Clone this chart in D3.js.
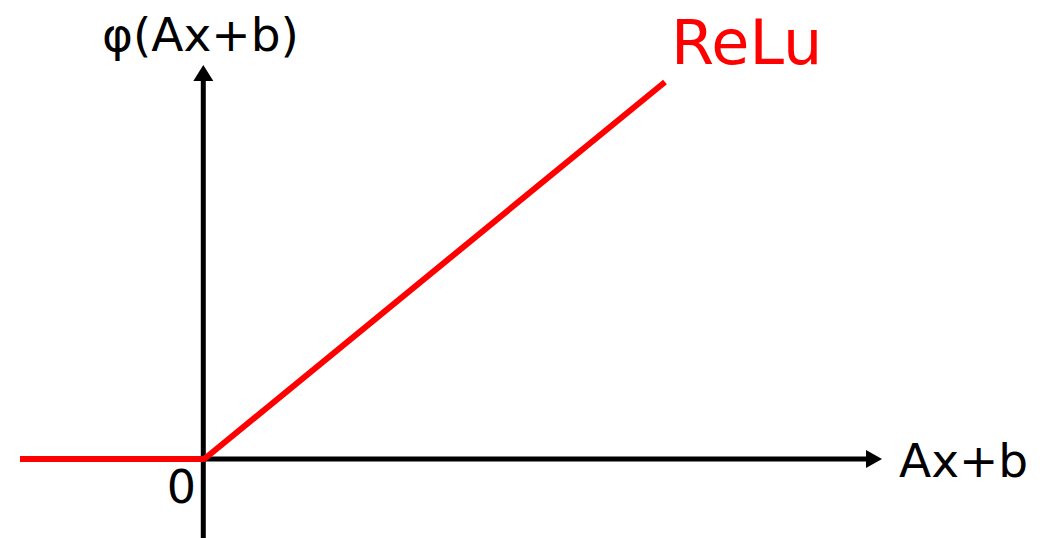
<!DOCTYPE html>
<html>
<head>
<meta charset="utf-8">
<script src="https://cdn.jsdelivr.net/npm/d3@7"></script>
<style>
  html, body { margin: 0; padding: 0; background: #fff; }
  svg { display: block; font-family: "DejaVu Sans", sans-serif; }
</style>
</head>
<body>
<div id="chart"></div>
<script>
// ReLU curve: phi(z) = max(0, z)
const reluX = [-1, 0, 2.5];
const reluY = reluX.map(v => Math.max(0, v));

const xLabel = "Ax+b";
const yLabel = "φ(Ax+b)";
const curveLabel = "ReLu";
const originLabel = "0";

const width = 1056, height = 538;

const svg = d3.select("#chart").append("svg")
	.attr("width", width)
	.attr("height", height);

const x = d3.scaleLinear().domain([-1, 2.5]).range([20, 665]);
const y = d3.scaleLinear().domain([0, 2.5]).range([459, 82]);

const x0 = x(0) - 1, y0 = y(0);
const xAxisEnd = 882, yAxisTop = 65;
const head = 16, half = 9;

// axes
svg.append("line")
	.attr("x1", x0).attr("y1", y0)
	.attr("x2", xAxisEnd - head).attr("y2", y0)
	.attr("stroke", "#000").attr("stroke-width", 5);
svg.append("path")
	.attr("d", `M${xAxisEnd},${y0} L${xAxisEnd - head},${y0 - half} L${xAxisEnd - head},${y0 + half} Z`)
	.attr("fill", "#000");

svg.append("line")
	.attr("x1", x0).attr("y1", height)
	.attr("x2", x0).attr("y2", yAxisTop + head)
	.attr("stroke", "#000").attr("stroke-width", 5);
svg.append("path")
	.attr("d", `M${x0},${yAxisTop} L${x0 - half - 1},${yAxisTop + head} L${x0 + half + 1},${yAxisTop + head} Z`)
	.attr("fill", "#000");

// relu line
const line = d3.line()
	.x(d => x(d[0]))
	.y(d => y(d[1]));

svg.append("path")
	.datum(d3.zip(reluX, reluY))
	.attr("d", line)
	.attr("fill", "none")
	.attr("stroke", "#ff0000")
	.attr("stroke-width", 6)
	.attr("stroke-linejoin", "round");

// labels
svg.append("text")
	.attr("x", 102).attr("y", 51)
	.style("font-size", "47px")
	.text(yLabel);

svg.append("text")
	.attr("x", 899).attr("y", 477)
	.style("font-size", "47px")
	.text(xLabel);

svg.append("text")
	.attr("x", 196).attr("y", 503)
	.attr("text-anchor", "end")
	.style("font-size", "46px")
	.text(originLabel);

svg.append("text")
	.attr("x", 671).attr("y", 64)
	.attr("fill", "#ff0000")
	.style("font-size", "62px")
	.text(curveLabel);
</script>
</body>
</html>
